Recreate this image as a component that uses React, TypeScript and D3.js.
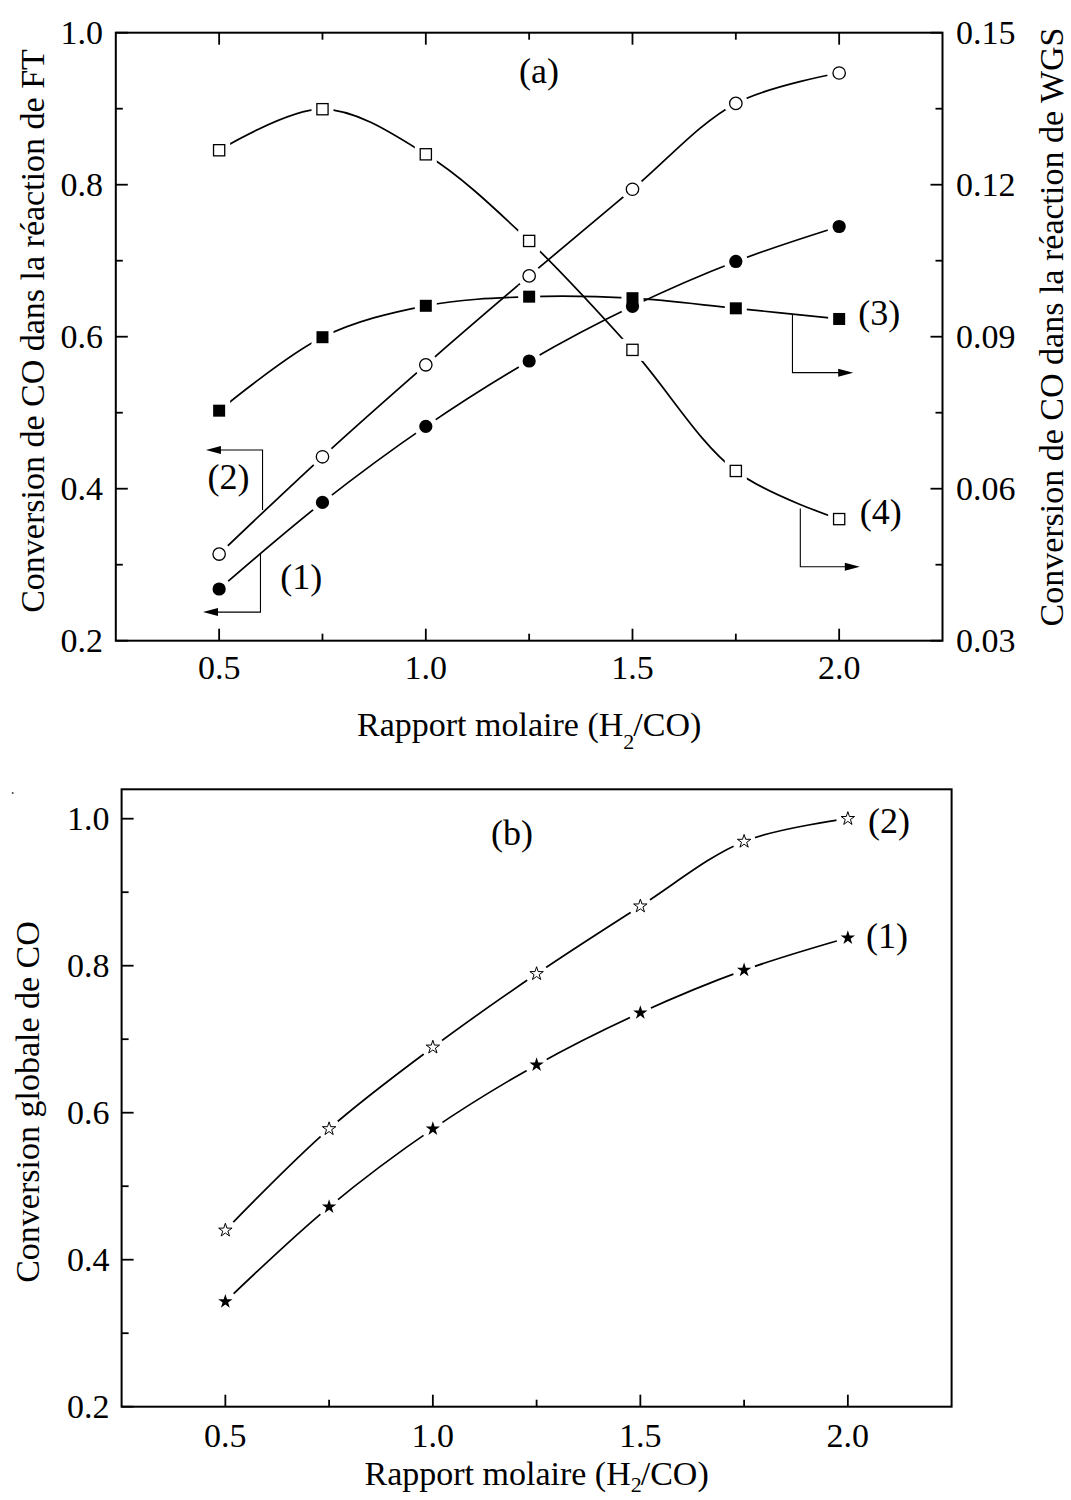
import React from 'react';
import * as d3 from 'd3';

// ---------- data ----------
const RATIO = [0.5, 0.75, 1.0, 1.25, 1.5, 1.75, 2.0];
// panel (a), left axis (FT)
const FT_1 = [0.268, 0.382, 0.482, 0.568, 0.640, 0.699, 0.745];
const FT_2 = [0.314, 0.442, 0.563, 0.680, 0.794, 0.907, 0.947];
// panel (a), right axis (WGS)
const WGS_3 = [0.0754, 0.0899, 0.0961, 0.0979, 0.0976, 0.0956, 0.0935];
const WGS_4 = [0.1268, 0.1349, 0.1260, 0.1089, 0.0874, 0.0635, 0.0540];
// panel (b)
const GLOB_1 = [0.343, 0.472, 0.578, 0.665, 0.736, 0.794, 0.838];
const GLOB_2 = [0.440, 0.578, 0.689, 0.789, 0.881, 0.969, 1.000];

const X_MAJOR = [0.5, 1.0, 1.5, 2.0];
const X_MINOR = [0.75, 1.25, 1.75];
const YA_MAJOR = [0.2, 0.4, 0.6, 0.8, 1.0];
const YA_MINOR = [0.3, 0.5, 0.7, 0.9];
const YR_MAJOR = [0.03, 0.06, 0.09, 0.12, 0.15];
const YR_MINOR = [0.045, 0.075, 0.105, 0.135];
const YB_MAJOR = [0.2, 0.4, 0.6, 0.8, 1.0];
const YB_MINOR = [0.3, 0.5, 0.7, 0.9];

// annotation brackets (data units): vertical at x from yCurve to yEnd, then horizontal to tip
const BRACKETS_A = [
  { label: '(2)', axis: 'L', x: 0.605, yCurve: 0.372, yEnd: 0.451, tip: 0.468, lx: 0.472, ly: 0.399 },
  { label: '(1)', axis: 'L', x: 0.600, yCurve: 0.315, yEnd: 0.2376, tip: 0.461, lx: 0.648, ly: 0.268 },
  { label: '(3)', axis: 'R', x: 1.887, yCurve: 0.0945, yEnd: 0.0829, tip: 2.034, lx: 2.046, ly: 0.0923 },
  { label: '(4)', axis: 'R', x: 1.906, yCurve: 0.0561, yEnd: 0.0446, tip: 2.050, lx: 2.050, ly: 0.0530 },
];

const FONT = "'Liberation Serif', 'Times New Roman', Times, serif";

// ---------- scales ----------
const xa = d3.scaleLinear().domain([0.25, 2.25]).range([115.8, 942.5]);
const ya = d3.scaleLinear().domain([0.2, 1.0]).range([640.7, 32.7]);
const yr = d3.scaleLinear().domain([0.03, 0.15]).range([640.7, 32.7]);
const xb = d3.scaleLinear().domain([0.25, 2.25]).range([121.6, 951.6]);
const yb = d3.scaleLinear().domain([0.2, 1.04]).range([1406.7, 789.3]);

type Sc = d3.ScaleLinear<number, number>;

function curvePath(xs: Sc, ys: Sc, vals: number[]) {
  const gen = d3
    .line<number>()
    .x((_, i) => xs(RATIO[i]))
    .y((d) => ys(d))
    .curve(d3.curveCatmullRom.alpha(0.5));
  return gen(vals) || '';
}

const starFilled = d3.symbol().type(d3.symbolStar).size(64)() || '';
const starOpen = d3.symbol().type(d3.symbolStar).size(56)() || '';

function Halo({ type, x, y }: { type: string; x: number; y: number }) {
  if (type === 'sq' || type === 'sqo')
    return <rect x={x - 11} y={y - 11} width={22} height={22} fill="#fff" />;
  if (type === 'st' || type === 'sto')
    return <circle cx={x} cy={y} r={11.5} fill="#fff" />;
  return <circle cx={x} cy={y} r={12} fill="#fff" />;
}

function Marker({ type, x, y }: { type: string; x: number; y: number }) {
  switch (type) {
    case 'ci':
      return <circle cx={x} cy={y} r={6.6} fill="#000" />;
    case 'cio':
      return <circle cx={x} cy={y} r={6.2} fill="#fff" stroke="#000" strokeWidth={1.3} />;
    case 'sq':
      return <rect x={x - 6} y={y - 6} width={12} height={12} fill="#000" />;
    case 'sqo':
      return (
        <rect x={x - 5.6} y={y - 5.6} width={11.2} height={11.2} fill="#fff" stroke="#000" strokeWidth={1.3} />
      );
    case 'st':
      return <path d={starFilled} transform={`translate(${x},${y})`} fill="#000" />;
    case 'sto':
      return (
        <path d={starOpen} transform={`translate(${x},${y})`} fill="#fff" stroke="#000" strokeWidth={1} />
      );
  }
  return null;
}

type Series = { vals: number[]; ys: Sc; type: string };

function SeriesLayer({ xs, series }: { xs: Sc; series: Series[] }) {
  return (
    <g>
      {series.map((s, k) => (
        <path key={'l' + k} d={curvePath(xs, s.ys, s.vals)} fill="none" stroke="#000" strokeWidth={1.7} />
      ))}
      {series.map((s, k) =>
        s.vals.map((v, i) => <Halo key={`h${k}-${i}`} type={s.type} x={xs(RATIO[i])} y={s.ys(v)} />)
      )}
      {series.map((s, k) =>
        s.vals.map((v, i) => <Marker key={`m${k}-${i}`} type={s.type} x={xs(RATIO[i])} y={s.ys(v)} />)
      )}
    </g>
  );
}

const TICK_FS = 34;
const TITLE_FS = 34;
const LABEL_FS = 36;

function fmt1(v: number) {
  return v.toFixed(1);
}
function fmt2(v: number) {
  return v.toFixed(2);
}

function XTitle({ cx, y, sub }: { cx: number; y: number; sub: number }) {
  return (
    <text x={cx} y={y} textAnchor="middle" fontSize={TITLE_FS} fontFamily={FONT}>
      Rapport molaire (H
      <tspan fontSize={22} dy={sub} dx={0}>
        2
      </tspan>
      <tspan dy={-sub} dx={-1}>
        /CO)
      </tspan>
    </text>
  );
}

function PanelA() {
  const [x0, x1] = xa.range();
  const [yBot, yTop] = ya.range();
  const MAJ = 12;
  const MIN = 7;
  return (
    <g>
      <SeriesLayer
        xs={xa}
        series={[
          { vals: WGS_4, ys: yr, type: 'sqo' },
          { vals: WGS_3, ys: yr, type: 'sq' },
          { vals: FT_2, ys: ya, type: 'cio' },
          { vals: FT_1, ys: ya, type: 'ci' },
        ]}
      />
      <rect x={x0} y={yTop} width={x1 - x0} height={yBot - yTop} fill="none" stroke="#000" strokeWidth={2} />
      {X_MAJOR.map((v) => (
        <g key={'xm' + v}>
          <line x1={xa(v)} x2={xa(v)} y1={yBot} y2={yBot - MAJ} stroke="#000" strokeWidth={1.8} />
          <line x1={xa(v)} x2={xa(v)} y1={yTop} y2={yTop + MAJ} stroke="#000" strokeWidth={1.8} />
          <text x={xa(v)} y={679} textAnchor="middle" fontSize={TICK_FS} fontFamily={FONT}>
            {fmt1(v)}
          </text>
        </g>
      ))}
      {X_MINOR.map((v) => (
        <g key={'xn' + v}>
          <line x1={xa(v)} x2={xa(v)} y1={yBot} y2={yBot - MIN} stroke="#000" strokeWidth={1.8} />
          <line x1={xa(v)} x2={xa(v)} y1={yTop} y2={yTop + MIN} stroke="#000" strokeWidth={1.8} />
        </g>
      ))}
      {YA_MAJOR.map((v) => (
        <g key={'ym' + v}>
          <line x1={x0} x2={x0 + MAJ} y1={ya(v)} y2={ya(v)} stroke="#000" strokeWidth={1.8} />
          <text x={103} y={ya(v) + 11.5} textAnchor="end" fontSize={TICK_FS} fontFamily={FONT}>
            {fmt1(v)}
          </text>
        </g>
      ))}
      {YA_MINOR.map((v) => (
        <line key={'yn' + v} x1={x0} x2={x0 + MIN} y1={ya(v)} y2={ya(v)} stroke="#000" strokeWidth={1.8} />
      ))}
      {YR_MAJOR.map((v) => (
        <g key={'rm' + v}>
          <line x1={x1} x2={x1 - MAJ} y1={yr(v)} y2={yr(v)} stroke="#000" strokeWidth={1.8} />
          <text x={956} y={yr(v) + 11.5} textAnchor="start" fontSize={TICK_FS} fontFamily={FONT}>
            {fmt2(v)}
          </text>
        </g>
      ))}
      {YR_MINOR.map((v) => (
        <line key={'rn' + v} x1={x1} x2={x1 - MIN} y1={yr(v)} y2={yr(v)} stroke="#000" strokeWidth={1.8} />
      ))}
      {BRACKETS_A.map((b) => {
        const ys = b.axis === 'L' ? ya : yr;
        const bx = xa(b.x);
        const yE = ys(b.yEnd);
        const tx = xa(b.tip);
        const dir = tx < bx ? -1 : 1;
        return (
          <g key={b.label}>
            <polyline
              points={`${bx},${ys(b.yCurve)} ${bx},${yE} ${tx - dir * 10},${yE}`}
              fill="none"
              stroke="#000"
              strokeWidth={1.1}
            />
            <polygon
              points={`${tx},${yE} ${tx - dir * 15},${yE - 4} ${tx - dir * 15},${yE + 4}`}
              fill="#000"
            />
            <text x={xa(b.lx)} y={ys(b.ly)} fontSize={LABEL_FS} fontFamily={FONT}>
              {b.label}
            </text>
          </g>
        );
      })}
      <text x={519} y={83} fontSize={LABEL_FS} fontFamily={FONT}>
        (a)
      </text>
      <XTitle cx={(x0 + x1) / 2} y={736} sub={13} />
      <text
        transform={`translate(44,331) rotate(-90)`}
        textAnchor="middle"
        fontSize={TITLE_FS}
        fontFamily={FONT}
      >
        Conversion de CO dans la réaction de FT
      </text>
      <text
        transform={`translate(1063,327) rotate(-90)`}
        textAnchor="middle"
        fontSize={TITLE_FS}
        fontFamily={FONT}
      >
        Conversion de CO dans la réaction de WGS
      </text>
    </g>
  );
}

function PanelB() {
  const [x0, x1] = xb.range();
  const [yBot, yTop] = yb.range();
  const MAJ = 12;
  const MIN = 7;
  return (
    <g>
      <SeriesLayer
        xs={xb}
        series={[
          { vals: GLOB_2, ys: yb, type: 'sto' },
          { vals: GLOB_1, ys: yb, type: 'st' },
        ]}
      />
      <rect x={x0} y={yTop} width={x1 - x0} height={yBot - yTop} fill="none" stroke="#000" strokeWidth={2} />
      {X_MAJOR.map((v) => (
        <g key={'bxm' + v}>
          <line x1={xb(v)} x2={xb(v)} y1={yBot} y2={yBot - MAJ} stroke="#000" strokeWidth={1.8} />
          <text x={xb(v)} y={1447} textAnchor="middle" fontSize={TICK_FS} fontFamily={FONT}>
            {fmt1(v)}
          </text>
        </g>
      ))}
      {X_MINOR.map((v) => (
        <line key={'bxn' + v} x1={xb(v)} x2={xb(v)} y1={yBot} y2={yBot - MIN} stroke="#000" strokeWidth={1.8} />
      ))}
      {YB_MAJOR.map((v) => (
        <g key={'bym' + v}>
          <line x1={x0} x2={x0 + MAJ} y1={yb(v)} y2={yb(v)} stroke="#000" strokeWidth={1.8} />
          <text x={109.5} y={yb(v) + 11.5} textAnchor="end" fontSize={TICK_FS} fontFamily={FONT}>
            {fmt1(v)}
          </text>
        </g>
      ))}
      {YB_MINOR.map((v) => (
        <line key={'byn' + v} x1={x0} x2={x0 + MIN} y1={yb(v)} y2={yb(v)} stroke="#000" strokeWidth={1.8} />
      ))}
      <text x={491} y={845} fontSize={LABEL_FS} fontFamily={FONT}>
        (b)
      </text>
      <text x={868} y={833} fontSize={LABEL_FS} fontFamily={FONT}>
        (2)
      </text>
      <text x={866} y={948} fontSize={LABEL_FS} fontFamily={FONT}>
        (1)
      </text>
      <XTitle cx={(x0 + x1) / 2} y={1485} sub={7} />
      <text
        transform={`translate(39,1102) rotate(-90)`}
        textAnchor="middle"
        fontSize={TITLE_FS}
        fontFamily={FONT}
      >
        Conversion globale de CO
      </text>
      <circle cx={12.7} cy={793} r={1} fill="#444" />
    </g>
  );
}

export default function App() {
  return (
    <svg
      width={1071}
      height={1500}
      viewBox="0 0 1071 1500"
      style={{ position: 'absolute', left: 0, top: 0, background: '#fff' }}
    >
      <rect x={0} y={0} width={1071} height={1500} fill="#fff" />
      <PanelA />
      <PanelB />
    </svg>
  );
}
